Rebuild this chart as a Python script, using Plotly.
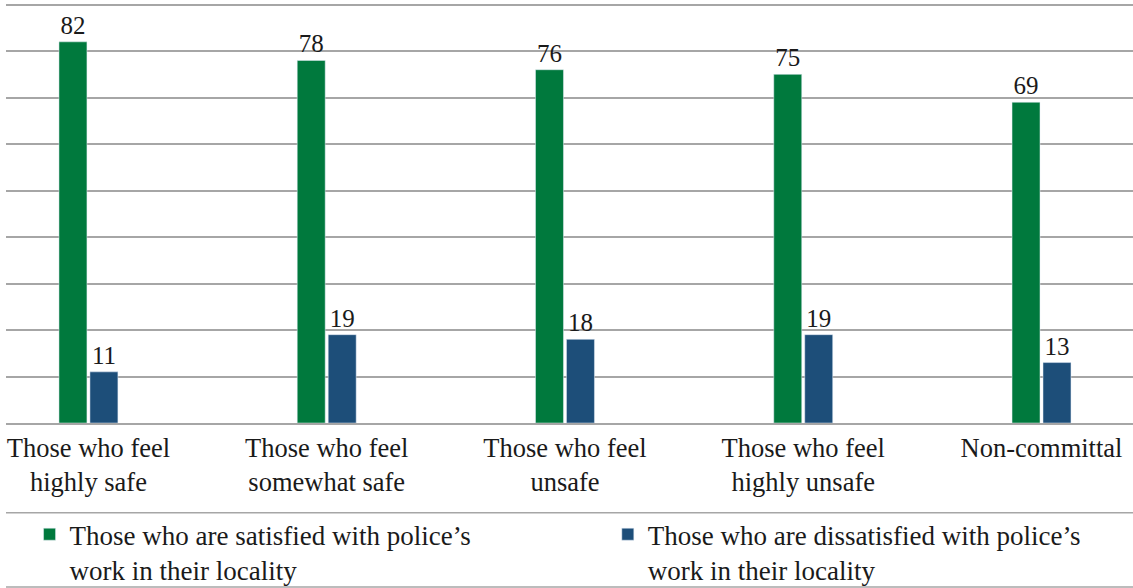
import plotly.graph_objects as go

categories = ["Those who feel<br>highly safe", "Those who feel<br>somewhat safe",
              "Those who feel<br>unsafe", "Those who feel<br>highly unsafe", "Non-committal"]
satisfied = [82, 78, 76, 75, 69]
dissatisfied = [11, 19, 18, 19, 13]
series_names = ["Those who are satisfied with police’s<br>work in their locality",
                "Those who are dissatisfied with police’s<br>work in their locality"]

GREEN = "#00793D"
BLUE = "#1D4E79"
GRID = "#A6A6A6"
TXT = "#1A1A1A"
FONT = "Liberation Serif, Times New Roman, serif"

fig = go.Figure()
fig.add_trace(go.Bar(x=categories, y=satisfied, name=series_names[0], marker_color=GREEN,
                     text=satisfied, textposition="outside", cliponaxis=False,
                     textfont=dict(size=25, color=TXT, family=FONT), legend="legend"))
fig.add_trace(go.Bar(x=categories, y=dissatisfied, name=series_names[1], marker_color=BLUE,
                     text=dissatisfied, textposition="outside", cliponaxis=False,
                     textfont=dict(size=25, color=TXT, family=FONT), legend="legend2"))

legend_common = dict(orientation="v", xanchor="left", yanchor="top", valign="top",
                     bgcolor="rgba(0,0,0,0)", font=dict(size=27, family=FONT, color=TXT))

fig.update_layout(
    width=1133, height=588,
    margin=dict(l=6, r=0, t=0, b=165, pad=0, autoexpand=False),
    paper_bgcolor="white", plot_bgcolor="white",
    barmode="group", bargap=0.74, bargroupgap=0.097,
    font=dict(family=FONT, color=TXT, size=27),
    showlegend=True,
    legend=dict(x=0.0209, y=-0.206, **legend_common),
    legend2=dict(x=0.534, y=-0.206, **legend_common),
    xaxis=dict(range=[-0.346, 4.384], showgrid=False, showline=True, linecolor=GRID,
               linewidth=1.5, ticks="", tickfont=dict(size=26.5, family=FONT, color=TXT)),
    yaxis=dict(range=[0, 91], dtick=10, showgrid=True, gridcolor=GRID, gridwidth=1.5,
               zeroline=False, showticklabels=False, ticks="", showline=False),
    shapes=[
        dict(type="line", xref="paper", yref="paper", x0=0, x1=1, y0=-0.212, y1=-0.212,
             line=dict(color=GRID, width=1.5)),
        dict(type="line", xref="paper", yref="paper", x0=0, x1=1, y0=-0.388, y1=-0.388,
             line=dict(color=GRID, width=1.5)),
    ],
)

fig.write_html("out.html", config={"displayModeBar": False},
               post_script="document.body.style.margin='0';document.body.style.overflow='hidden';")
